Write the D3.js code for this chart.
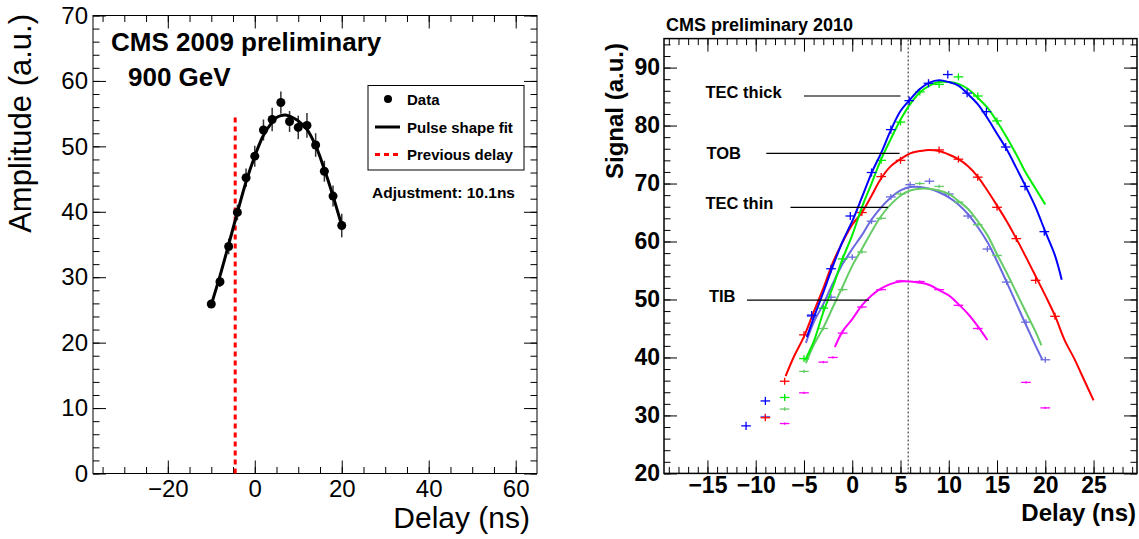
<!DOCTYPE html>
<html>
<head>
<meta charset="utf-8">
<script src="https://cdn.jsdelivr.net/npm/d3@7"></script>
<style>
  body { margin: 0; background: #fff; }
  text { font-family: "Liberation Sans", Arial, Helvetica, sans-serif; }
</style>
</head>
<body>
<svg id="chart" width="1139" height="539"></svg>
<script>
// ---- left panel: 2009 delay scan at 900 GeV ----
const scanDelay = [-10, -8, -6, -4, -2, 0, 2, 4, 6, 8, 10, 12, 14, 16, 18, 20];
const scanAmp = [25.9, 29.3, 34.7, 39.9, 45.2, 48.5, 52.5, 54.1, 56.7, 53.8, 52.9, 53.2, 50.2, 46.2, 42.4, 37.9];
const scanErr = [0.6, 0.8, 1.2, 1.2, 1.4, 1.6, 1.6, 1.8, 1.7, 1.6, 1.8, 1.9, 1.8, 1.6, 1.6, 1.8];
const fitDelay = [-10, -8, -6, -4, -2, 0, 2, 4, 5, 6, 7, 8, 9, 10, 12, 14, 16, 18, 20];
const fitAmp = [25.8, 30.2, 35.0, 39.9, 44.6, 48.5, 51.7, 53.7, 54.4, 54.7, 54.8, 54.6, 54.3, 53.9, 52.6, 50.1, 46.5, 42.4, 37.9];
const previousDelay = -4.5;
const previousTop = 55;
const legendLabels = ['Data', 'Pulse shape fit', 'Previous delay'];

// ---- right panel: 2010 scans per partition ----
const thickAMarkX = [-11, -9, -4.2, -2.2, -0.2, 2, 4, 5.9, 7.9, 9.9, 11.9, 13.9, 15.9, 17.9, 19.9];
const thickAMarkY = [28.2, 32.5, 47.3, 55.3, 64.4, 71.9, 79.3, 84.3, 87.3, 88.8, 85.6, 82.4, 76.3, 69.5, 61.7];
const thickACurveX = [-4.7, -4, -3, -2, -1, 0, 1, 2, 3, 4, 5, 6, 7, 8, 9, 10, 11, 12, 13, 14, 15, 16, 17, 18, 19, 20, 21, 21.7];
const thickACurveY = [43.5, 46.8, 51.2, 55.8, 60.0, 63.5, 67.6, 71.8, 75.3, 79.2, 82.5, 84.5, 86.3, 87.4, 87.8, 87.5, 86.9, 85.4, 83.7, 81.3, 78.6, 75.9, 72.7, 69.4, 65.9, 61.7, 57.6, 53.4];

const thickBMarkX = [-7, -5, -3, -1, 3, 5, 7, 9, 11, 13, 15];
const thickBMarkY = [33.1, 39.8, 48.5, 57.0, 74.0, 80.6, 85.8, 87.1, 88.4, 85.1, 80.8];
const thickBCurveX = [-4.9, -4, -3, -2, -1, 0, 1, 2, 3, 4, 5, 6, 7, 8, 9, 10, 11, 12, 13, 14, 15, 16, 17, 18, 19, 20];
const thickBCurveY = [39.5, 42.7, 47.8, 52.2, 57.0, 61.1, 65.9, 70.0, 74.2, 77.7, 81.0, 83.7, 85.7, 86.9, 87.5, 87.5, 87.2, 86.3, 84.8, 83.1, 80.7, 78.0, 75.0, 71.8, 69.1, 66.4];

const tobMarkX = [-9, -7, -5, 1, 3, 5, 9, 11, 13, 15, 17, 19, 21];
const tobMarkY = [29.6, 35.9, 43.9, 65.0, 71.2, 74.0, 75.8, 74.2, 71.1, 65.9, 60.5, 53.3, 47.1];
const tobCurveX = [-6.9, -6, -5, -4, -3, -2, -1, 0, 1, 2, 3, 4, 5, 6, 7, 8, 9, 10, 11, 12, 13, 14, 15, 16, 17, 18, 19, 20, 21, 22, 23, 24, 25];
const tobCurveY = [36.8, 40.3, 43.6, 47.8, 51.9, 56.4, 59.9, 62.9, 65.0, 67.9, 70.9, 73.0, 74.2, 75.2, 75.6, 75.8, 75.6, 75.0, 74.2, 73.0, 71.2, 68.8, 66.2, 63.5, 60.5, 57.3, 54.0, 50.7, 47.2, 43.0, 39.8, 36.2, 32.6];

const thinAMarkX = [-9, -4.2, -2.2, 0, 2, 4, 6, 8, 10, 12, 14, 16, 18, 20];
const thinAMarkY = [29.8, 47.1, 50.4, 57.3, 63.5, 67.7, 69.8, 70.4, 68.2, 64.4, 58.7, 53.0, 46.1, 39.6];
const thinACurveX = [-4.8, -4, -3, -2, -1, 0, 1, 2, 3, 4, 5, 6, 7, 8, 9, 10, 11, 12, 13, 14, 15, 16, 17, 18, 19, 19.7];
const thinACurveY = [42.5, 46.0, 49.2, 52.8, 56.1, 58.7, 61.1, 63.8, 65.9, 67.6, 68.8, 69.4, 69.4, 69.1, 68.5, 67.6, 66.4, 64.7, 62.5, 59.9, 56.6, 53.0, 49.3, 45.6, 42.0, 39.6];

const thinBMarkX = [-7, -5, -3, -1, 1, 3, 5, 7, 9, 11, 13, 15];
const thinBMarkY = [31.1, 37.6, 45.0, 51.7, 58.2, 64.0, 68.2, 70.0, 69.5, 66.8, 62.9, 57.6];
const thinBCurveX = [-4.8, -4, -3, -2, -1, 0, 1, 2, 3, 4, 5, 6, 7, 8, 9, 10, 11, 12, 13, 14, 15, 16, 17, 18, 19, 19.6];
const thinBCurveY = [39.0, 42.1, 45.1, 48.7, 52.2, 55.8, 58.7, 61.7, 64.4, 66.4, 67.9, 68.8, 69.1, 69.1, 68.8, 68.2, 67.0, 65.6, 63.5, 61.1, 57.8, 54.6, 51.2, 47.8, 44.4, 42.1];

const tibMarkX = [-7, -5, -3, -2, -1, 1, 3, 5, 7, 9, 11, 13, 18, 20];
const tibMarkY = [28.6, 33.9, 39.2, 40.0, 44.2, 48.7, 51.7, 53.2, 53.1, 51.7, 49.0, 45.0, 35.7, 31.3];
const tibCurveX = [-1.8, -1, 0, 1, 2, 3, 4, 5, 6, 7, 8, 9, 10, 11, 12, 13, 14];
const tibCurveY = [41.8, 44.5, 46.6, 49.0, 50.7, 51.9, 52.7, 53.1, 53.1, 52.9, 52.5, 51.6, 50.7, 49.2, 47.5, 45.4, 43.0];

const partitionLabels = ['TEC thick', 'TOB', 'TEC thin', 'TIB'];
const currentDelay = 5.8;

const svg = d3.select('#chart');
const zip = (xs, ys) => xs.map((v, i) => ({x: v, y: ys[i]}));

// ROOT style frame: ticks on all four sides pointing inwards
function drawFrame(g, x, y, o) {
  const w = x.range()[1], h = y.range()[0];
  const tick = (axis, vals, len, tf) => axis.tickValues(vals).tickSizeInner(-len).tickSizeOuter(0).tickFormat(tf || '');
  const put = (tr, axis) => g.append('g').attr('transform', tr).call(axis).call(a => a.select('.domain').remove());

  put(`translate(0,${h})`, tick(d3.axisBottom(x), o.xMinor, o.minorLen));
  put('translate(0,0)', tick(d3.axisTop(x), o.xMinor, o.minorLen));
  put('translate(0,0)', tick(d3.axisLeft(y), o.yMinor, o.minorLen));
  put(`translate(${w},0)`, tick(d3.axisRight(y), o.yMinor, o.minorLen));
  put('translate(0,0)', tick(d3.axisTop(x), o.xMajor, o.majorLen));
  put(`translate(${w},0)`, tick(d3.axisRight(y), o.yMajor, o.majorLen));

  const xb = put(`translate(0,${h})`, tick(d3.axisBottom(x), o.xMajor, o.majorLen, d3.format('d')).tickPadding(o.xPad));
  const yl = put('translate(0,0)', tick(d3.axisLeft(y), o.yMajor, o.majorLen, d3.format('d')).tickPadding(o.yPad));
  [xb, yl].forEach(a => a.attr('font-family', null).attr('font-size', o.fontSize)
    .attr('font-weight', o.fontWeight));
  g.selectAll('.tick line').attr('stroke', '#000');
  g.append('rect').attr('width', w).attr('height', h)
    .attr('fill', 'none').attr('stroke', '#000').attr('stroke-width', o.frameWidth);
}

// ================= left panel =================
{
  const m = {left: 93, top: 15.5};
  const w = 537 - 93, h = 473.5 - 15.5;
  const x = d3.scaleLinear().domain([-37.2, 64.9]).range([0, w]);
  const y = d3.scaleLinear().domain([0, 70]).range([h, 0]);
  const g = svg.append('g').attr('transform', `translate(${m.left},${m.top})`);

  drawFrame(g, x, y, {
    xMinor: d3.range(-35, 65, 5), xMajor: [-20, 0, 20, 40, 60],
    yMinor: d3.range(0, 71, 2), yMajor: d3.range(0, 71, 10),
    minorLen: 6.5, majorLen: 13, xPad: 6, yPad: 5,
    fontSize: 24, fontWeight: 'normal', frameWidth: 1
  });

  // previous delay
  g.append('line')
    .attr('x1', x(previousDelay)).attr('x2', x(previousDelay))
    .attr('y1', y(0)).attr('y2', y(previousTop))
    .attr('stroke', '#ff0000').attr('stroke-width', 3).attr('stroke-dasharray', '5,4');

  const pts = scanDelay.map((d, i) => ({x: d, y: scanAmp[i], e: scanErr[i]}));
  g.selectAll('.err').data(pts).join('line').attr('class', 'err')
    .attr('x1', d => x(d.x)).attr('x2', d => x(d.x))
    .attr('y1', d => y(d.y - d.e)).attr('y2', d => y(d.y + d.e))
    .attr('stroke', '#333').attr('stroke-width', 1.5);

  g.append('path').datum(zip(fitDelay, fitAmp))
    .attr('d', d3.line().x(d => x(d.x)).y(d => y(d.y)).curve(d3.curveCatmullRom))
    .attr('fill', 'none').attr('stroke', '#000').attr('stroke-width', 3);

  g.selectAll('.pt').data(pts).join('circle').attr('class', 'pt')
    .attr('cx', d => x(d.x)).attr('cy', d => y(d.y)).attr('r', 4.5).attr('fill', '#000');

  g.append('text').attr('x', 111 - m.left).attr('y', 51 - m.top)
    .attr('font-size', 26).attr('font-weight', 'bold').text('CMS 2009 preliminary');
  g.append('text').attr('x', 128 - m.left).attr('y', 86 - m.top)
    .attr('font-size', 26).attr('font-weight', 'bold').text('900 GeV');

  // legend
  const lg = svg.append('g').attr('transform', 'translate(368,85.5)');
  lg.append('rect').attr('width', 156).attr('height', 84.5)
    .attr('fill', '#fff').attr('stroke', '#000').attr('stroke-width', 1);
  const rowY = [13.5, 41.5, 69];
  lg.append('circle').attr('cx', 20).attr('cy', rowY[0]).attr('r', 4).attr('fill', '#000');
  lg.append('line').attr('x1', 7).attr('x2', 32).attr('y1', rowY[1]).attr('y2', rowY[1])
    .attr('stroke', '#000').attr('stroke-width', 3);
  lg.append('line').attr('x1', 7).attr('x2', 32).attr('y1', rowY[2]).attr('y2', rowY[2])
    .attr('stroke', '#ff0000').attr('stroke-width', 3).attr('stroke-dasharray', '5,4');
  lg.selectAll('.lt').data(legendLabels).join('text').attr('class', 'lt')
    .attr('x', 39).attr('y', (d, i) => rowY[i] + 5.5)
    .attr('font-size', 15).attr('font-weight', 'bold').text(d => d);

  svg.append('text').attr('x', 372).attr('y', 198)
    .attr('font-size', 15.5).attr('font-weight', 'bold').text('Adjustment: 10.1ns');

  svg.append('text').attr('x', 530).attr('y', 528).attr('text-anchor', 'end')
    .attr('font-size', 30).text('Delay (ns)');
  svg.append('text').attr('transform', 'translate(31,14) rotate(-90)').attr('text-anchor', 'end')
    .attr('font-size', 31).text('Amplitude (a.u.)');
}

// ================= right panel =================
{
  const m = {left: 664, top: 38.6};
  const w = 1137 - 664, h = 473.4 - 38.6;
  const x = d3.scaleLinear().domain([-19.5, 29.5]).range([0, w]);
  const y = d3.scaleLinear().domain([20, 95]).range([h, 0]);
  const g = svg.append('g').attr('transform', `translate(${m.left},${m.top})`);

  drawFrame(g, x, y, {
    xMinor: d3.range(-19, 30, 1), xMajor: d3.range(-15, 26, 5),
    yMinor: d3.range(20, 95, 2), yMajor: d3.range(20, 91, 10),
    minorLen: 6.5, majorLen: 13, xPad: 3, yPad: 4,
    fontSize: 23, fontWeight: 'bold', frameWidth: 1.5
  });

  g.append('line')
    .attr('x1', x(currentDelay)).attr('x2', x(currentDelay))
    .attr('y1', y(20)).attr('y2', y(95))
    .attr('stroke', '#555').attr('stroke-width', 1.3).attr('stroke-dasharray', '2,2');

  const series = [
    {c: '#6868e0', mx: thinAMarkX, my: thinAMarkY, cx: thinACurveX, cy: thinACurveY, e: 0.5},
    {c: '#66cc66', mx: thinBMarkX, my: thinBMarkY, cx: thinBCurveX, cy: thinBCurveY, e: 0.3},
    {c: '#ff00ff', mx: tibMarkX, my: tibMarkY, cx: tibCurveX, cy: tibCurveY, e: 0.2},
    {c: '#ff0000', mx: tobMarkX, my: tobMarkY, cx: tobCurveX, cy: tobCurveY, e: 0.6},
    {c: '#00ee00', mx: thickBMarkX, my: thickBMarkY, cx: thickBCurveX, cy: thickBCurveY, e: 0.6},
    {c: '#0000ff', mx: thickAMarkX, my: thickAMarkY, cx: thickACurveX, cy: thickACurveY, e: 0.7}
  ];
  const line = d3.line().x(d => x(d.x)).y(d => y(d.y)).curve(d3.curveCatmullRom);

  series.forEach(s => {
    const sg = g.append('g');
    const pts = zip(s.mx, s.my);
    sg.selectAll('.h').data(pts).join('line')
      .attr('x1', d => x(d.x - 0.5)).attr('x2', d => x(d.x + 0.5))
      .attr('y1', d => y(d.y)).attr('y2', d => y(d.y))
      .attr('stroke', s.c).attr('stroke-width', 1.3);
    sg.selectAll('.v').data(pts).join('line')
      .attr('x1', d => x(d.x)).attr('x2', d => x(d.x))
      .attr('y1', d => y(d.y - s.e)).attr('y2', d => y(d.y + s.e))
      .attr('stroke', s.c).attr('stroke-width', 1.3);
    sg.append('path').datum(zip(s.cx, s.cy)).attr('d', line)
      .attr('fill', 'none').attr('stroke', s.c).attr('stroke-width', 2);
  });

  // partition labels with pointer lines
  const labelX = [-15.2, -15.1, -15.2, -14.85];
  const labelY = [84.7, 74.3, 65.6, 49.5];
  const pointerFrom = [-5.0, -8.9, -6.4, -10.9];
  const pointerTo = [5.0, 4.9, 3.7, 1.75];
  const pointerY = [85.1, 75.2, 65.9, 49.9];
  partitionLabels.forEach((t, i) => {
    g.append('text').attr('x', x(labelX[i])).attr('y', y(labelY[i]))
      .attr('font-size', 16.5).attr('font-weight', 'bold').text(t);
    g.append('line')
      .attr('x1', x(pointerFrom[i])).attr('x2', x(pointerTo[i]))
      .attr('y1', y(pointerY[i])).attr('y2', y(pointerY[i]))
      .attr('stroke', i === 0 ? '#777' : '#000').attr('stroke-width', i === 0 ? 2 : 1.3);
  });

  svg.append('text').attr('x', 666).attr('y', 31)
    .attr('font-size', 18).attr('font-weight', 'bold').text('CMS preliminary 2010');
  svg.append('text').attr('x', 1136).attr('y', 521).attr('text-anchor', 'end')
    .attr('font-size', 24).attr('font-weight', 'bold').text('Delay (ns)');
  svg.append('text').attr('transform', 'translate(623,43) rotate(-90)').attr('text-anchor', 'end')
    .attr('font-size', 24).attr('font-weight', 'bold').text('Signal (a.u.)');
}
</script>
</body>
</html>
